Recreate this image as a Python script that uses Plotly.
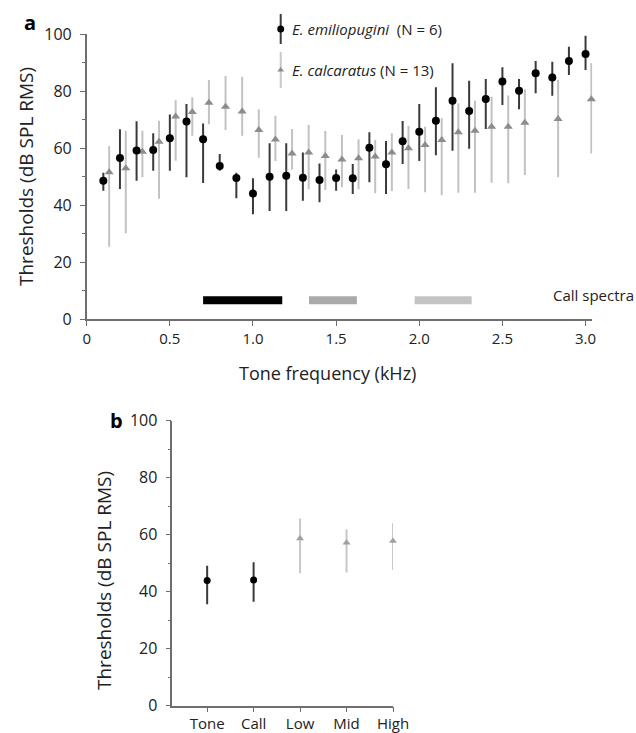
import plotly.graph_objects as go

# ---------------- Data ----------------
freq_emil = [0.1, 0.2, 0.3, 0.4, 0.5, 0.6, 0.7, 0.8, 0.9, 1.0, 1.1, 1.2, 1.3, 1.4, 1.5,
             1.6, 1.7, 1.8, 1.9, 2.0, 2.1, 2.2, 2.3, 2.4, 2.5, 2.6, 2.7, 2.8, 2.9, 3.0]
thr_emil = [48.6, 56.6, 59.2, 59.4, 63.5, 69.4, 63.2, 53.8, 49.6, 44.1, 50.0, 50.4, 49.7, 48.9, 49.6,
            49.5, 60.2, 54.4, 62.5, 65.8, 69.7, 76.7, 73.1, 77.3, 83.4, 80.2, 86.3, 84.8, 90.6, 93.1]
hi_emil = [51.4, 66.7, 69.5, 65.3, 71.9, 75.5, 68.7, 58.0, 51.4, 49.5, 61.8, 61.8, 58.5, 54.7, 52.6,
           54.5, 65.6, 62.6, 69.6, 75.5, 81.4, 89.8, 83.7, 84.3, 88.4, 84.3, 90.6, 90.4, 95.6, 99.5]
lo_emil = [45.1, 45.7, 48.6, 52.1, 52.1, 49.8, 47.8, 52.1, 42.5, 36.9, 38.0, 38.0, 41.6, 41.1, 45.1,
           44.0, 48.1, 44.0, 54.5, 55.5, 57.6, 59.1, 59.8, 66.8, 75.2, 73.7, 79.3, 78.4, 85.7, 87.5]

freq_calc = [0.135, 0.235, 0.335, 0.435, 0.535, 0.635, 0.735, 0.835, 0.935, 1.035, 1.135, 1.235,
             1.335, 1.435, 1.535, 1.635, 1.735, 1.835, 1.935, 2.035, 2.135, 2.235, 2.335, 2.435,
             2.535, 2.635, 2.835, 3.035]
thr_calc = [51.6, 53.0, 58.8, 62.3, 71.2, 72.7, 76.0, 74.6, 72.9, 66.4, 63.1, 58.2,
            58.5, 57.3, 56.1, 56.5, 57.1, 58.5, 60.0, 61.2, 62.9, 65.6, 66.2, 67.6,
            67.6, 69.0, 70.3, 77.2]
hi_calc = [60.8, 66.2, 66.2, 69.7, 76.9, 77.9, 84.0, 85.4, 85.1, 73.7, 71.4, 66.8,
           68.2, 66.1, 64.7, 63.2, 62.9, 65.3, 67.9, 67.6, 70.5, 75.8, 76.7, 78.1,
           78.5, 80.7, 84.0, 89.8]
lo_calc = [25.5, 30.2, 49.8, 42.3, 55.6, 64.4, 68.4, 66.4, 64.4, 56.7, 55.5, 52.6,
           45.6, 45.4, 46.3, 45.6, 44.2, 45.0, 45.7, 44.6, 43.5, 44.4, 44.4, 47.9,
           47.7, 50.6, 49.8, 58.2]

# Call spectra bands (kHz)
band_start = [0.70, 1.337, 1.972]
band_end = [1.176, 1.625, 2.315]
band_colors = ["#000000", "#aaaaaa", "#c4c4c4"]
band_y = [5.3, 8.1]

# Panel b
cat_b = ["Tone", "Call", "Low", "Mid", "High"]
thr_b = [43.9, 44.1, 58.7, 57.2, 57.8]
hi_b = [49.1, 50.3, 65.7, 61.9, 64.0]
lo_b = [35.6, 36.5, 46.5, 46.7, 47.6]
species_b = ["emil", "emil", "calc", "calc", "calc"]

yticks = [0, 20, 40, 60, 80, 100]
xticks_a = [0, 0.5, 1.0, 1.5, 2.0, 2.5, 3.0]
xticklabels_a = ["0", "0.5", "1.0", "1.5", "2.0", "2.5", "3.0"]

# ---------------- Figure ----------------
W, H = 636, 733
FONT = "Open Sans"
AX = "#6e6e6e"
TXT = "#222222"


def px(sx):
    return sx / W


def py(sy):
    return 1 - sy / H


def up(v, c):
    return [a - b for a, b in zip(v, c)]


def dn(v, c):
    return [b - a for a, b in zip(v, c)]


fig = go.Figure()

# E. calcaratus (panel a)
fig.add_trace(go.Scatter(
    x=freq_calc, y=thr_calc, mode="markers", xaxis="x", yaxis="y",
    marker=dict(symbol="triangle-up", size=8, color="#8c8c8c"),
    error_y=dict(type="data", symmetric=False, array=up(hi_calc, thr_calc),
                 arrayminus=dn(lo_calc, thr_calc), color="#c2c2c2", thickness=2, width=0),
    cliponaxis=False, showlegend=False))
# E. emiliopugini (panel a)
fig.add_trace(go.Scatter(
    x=freq_emil, y=thr_emil, mode="markers", xaxis="x", yaxis="y",
    marker=dict(symbol="circle", size=8, color="#000000"),
    error_y=dict(type="data", symmetric=False, array=up(hi_emil, thr_emil),
                 arrayminus=dn(lo_emil, thr_emil), color="#3a3a3a", thickness=2, width=0),
    cliponaxis=False, showlegend=False))

# Panel b
for sp, sym, mc, ec, sz in [("emil", "circle", "#000000", "#3a3a3a", 7),
                            ("calc", "triangle-up", "#a0a0a0", "#c8c8c8", 7)]:
    idx = [i for i, s in enumerate(species_b) if s == sp]
    fig.add_trace(go.Scatter(
        x=[cat_b[i] for i in idx], y=[thr_b[i] for i in idx], mode="markers",
        xaxis="x2", yaxis="y2",
        marker=dict(symbol=sym, size=sz, color=mc),
        error_y=dict(type="data", symmetric=False,
                     array=[hi_b[i] - thr_b[i] for i in idx],
                     arrayminus=[thr_b[i] - lo_b[i] for i in idx],
                     color=ec, thickness=2, width=0),
        cliponaxis=False, showlegend=False))

# Legend key (screen-pixel overlay axis)
leg_x = [280.7, 280.7]
leg_y = [29, 70]
leg_err = [15, 18]
fig.add_trace(go.Scatter(
    x=[leg_x[0]], y=[leg_y[0]], mode="markers", xaxis="x3", yaxis="y3",
    marker=dict(symbol="circle", size=7, color="#000000"),
    error_y=dict(type="constant", value=leg_err[0], color="#3a3a3a", thickness=2, width=0),
    cliponaxis=False, showlegend=False, hoverinfo="skip"))
fig.add_trace(go.Scatter(
    x=[leg_x[1]], y=[leg_y[1]], mode="markers", xaxis="x3", yaxis="y3",
    marker=dict(symbol="triangle-up", size=6, color="#8c8c8c"),
    error_y=dict(type="constant", value=leg_err[1], color="#c8c8c8", thickness=2, width=0),
    cliponaxis=False, showlegend=False, hoverinfo="skip"))

# Call spectra bands
shapes = []
for s, e, c in zip(band_start, band_end, band_colors):
    shapes.append(dict(type="rect", xref="x", yref="y", x0=s, x1=e,
                       y0=band_y[0], y1=band_y[1], fillcolor=c, line=dict(width=0)))

# domains (from screen pixels)
xa0, xa1 = px(86.7), px(592.2)
ya0, ya1 = py(319.3), py(34.3)
xb0, xb1 = px(172.3), px(393.0)
yb0, yb1 = py(705.7), py(420.7)

axis_common = dict(showline=True, linecolor=AX, linewidth=1.5, showgrid=False, zeroline=False,
                   ticks="outside", tickcolor=AX, tickwidth=1.2, ticklen=5)
font_y = dict(family=FONT, size=16, color=TXT)
font_x = dict(family=FONT, size=15, color=TXT)
minor_y = dict(ticks="outside", dtick=10, tick0=0, ticklen=3, tickcolor=AX, tickwidth=1)

fig.update_layout(
    width=W, height=H, margin=dict(l=0, r=0, t=0, b=0, autoexpand=False),
    paper_bgcolor="white", plot_bgcolor="rgba(0,0,0,0)",
    shapes=shapes,
    xaxis=dict(domain=[xa0, xa1], range=[0, 3.04], tickvals=xticks_a, ticktext=xticklabels_a,
               anchor="y", tickfont=font_x, **axis_common),
    yaxis=dict(domain=[ya0, ya1], range=[0, 100], tickvals=yticks, anchor="x",
               minor=minor_y, ticklabelstandoff=5, tickfont=font_y, **axis_common),
    xaxis2=dict(domain=[xb0, xb1], type="category", categoryorder="array", categoryarray=cat_b,
                range=[-0.75, 4.0], anchor="y2", tickfont=font_x, ticklabelstandoff=-1,
                **axis_common),
    yaxis2=dict(domain=[yb0, yb1], range=[0, 100], tickvals=yticks, anchor="x2",
                minor=minor_y, ticklabelstandoff=5, tickfont=font_y, **axis_common),
    xaxis3=dict(domain=[0, 1], range=[0, W], visible=False, anchor="y3"),
    yaxis3=dict(domain=[0, 1], range=[H, 0], visible=False, anchor="x3"),
)

ann = [
    dict(text="<b>a</b>", x=px(30), y=py(22), font=dict(size=20, color="#000")),
    dict(text="<b>b</b>", x=px(117), y=py(420), font=dict(size=20, color="#000")),
    dict(text="Tone frequency (kHz)", x=px(327), y=py(373), font=dict(size=18, color=TXT)),
    dict(text="Thresholds (dB SPL RMS)", x=px(26), y=py(177), textangle=-90,
         font=dict(size=19, color=TXT)),
    dict(text="Thresholds (dB SPL RMS)", x=px(104), y=py(581), textangle=-90,
         font=dict(size=19, color=TXT)),
    dict(text="Call spectra", x=px(551), y=py(295), xanchor="left",
         font=dict(size=15, color=TXT)),
    dict(text="<i>E. emiliopugini</i>  (N = 6)", x=px(290), y=py(29), xanchor="left",
         font=dict(size=15, color=TXT)),
    dict(text="<i>E. calcaratus</i> (N = 13)", x=px(290), y=py(70), xanchor="left",
         font=dict(size=15, color=TXT)),
]
for a in ann:
    a.setdefault("xanchor", "center")
    a.update(xref="paper", yref="paper", yanchor="middle", showarrow=False)
    a["font"].setdefault("family", FONT)
fig.update_layout(annotations=ann)

fig.write_html("out.html", config={"displayModeBar": False},
               post_script="document.body.style.margin='0';document.body.style.overflow='hidden';")
